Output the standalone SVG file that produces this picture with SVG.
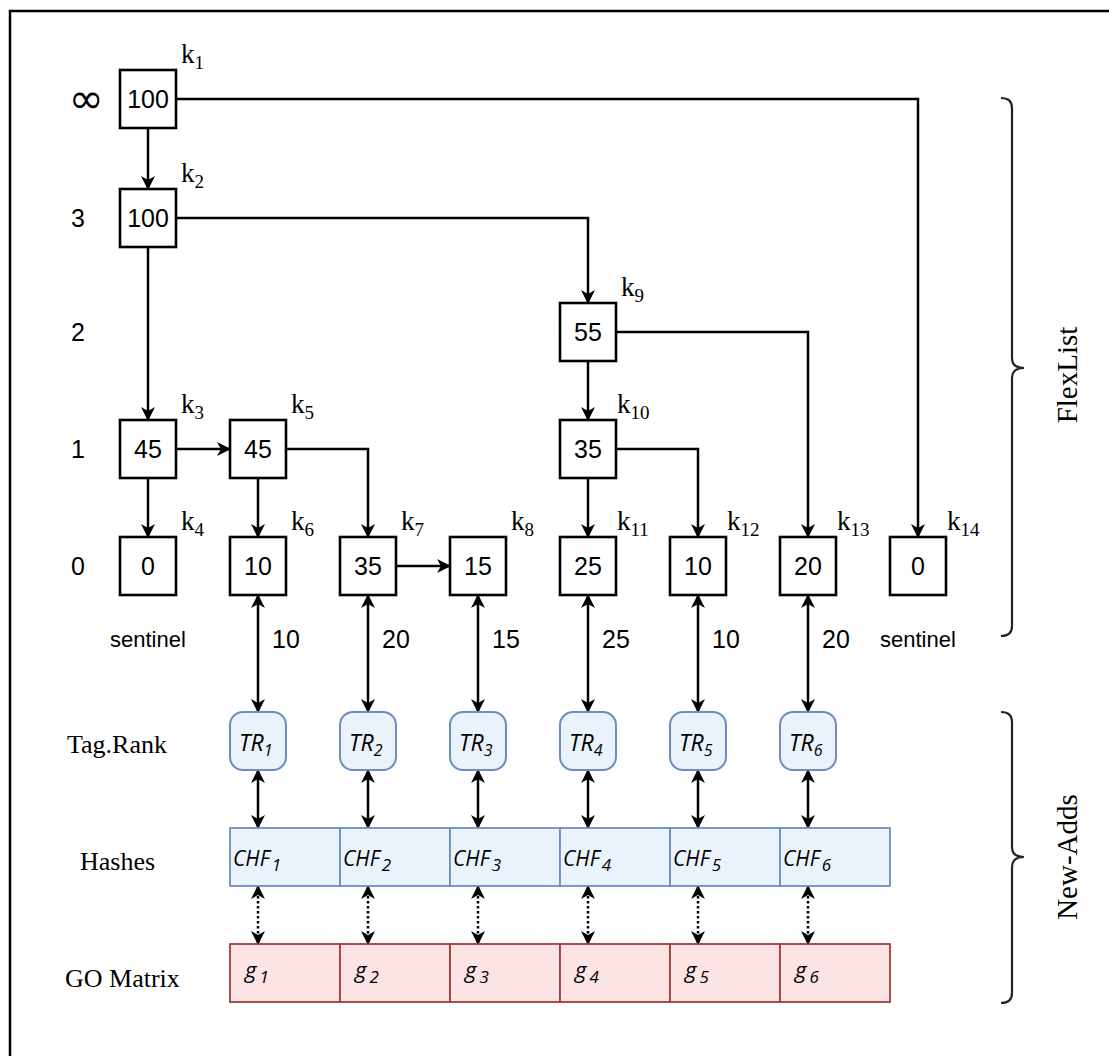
<svg xmlns="http://www.w3.org/2000/svg" width="1109" height="1056" viewBox="0 0 1109 1056">
<style>
.box{fill:#fff;stroke:#000;stroke-width:2.6}
.num{font-family:"Liberation Sans",Arial,sans-serif;font-size:25px;text-anchor:middle;fill:#000}
.lvl{font-family:"Liberation Sans",Arial,sans-serif;font-size:25px;text-anchor:middle;fill:#000}
.inf{font-family:"DejaVu Sans",sans-serif;font-size:42px;text-anchor:middle;fill:#000}
.k{font-family:"Liberation Serif","Times New Roman",serif;font-size:27px;fill:#000}
.sub{font-size:19px}
.conn{fill:none;stroke:#000;stroke-width:2.5}
.dot{fill:none;stroke:#000;stroke-width:2.5;stroke-dasharray:2.5 2.5}
.lab{font-family:"Liberation Serif","Times New Roman",serif;font-size:26px;fill:#000}
.side{font-family:"Liberation Serif","Times New Roman",serif;font-size:29px;fill:#000}
.sent{font-family:"Liberation Sans",Arial,sans-serif;font-size:22px;fill:#000}
.tr{fill:#eaf2fc;stroke:#6c8ebf;stroke-width:2}
.chf{fill:#eaf2fc;stroke:#6c8ebf;stroke-width:1.8}
.g{fill:#fbe4e3;stroke:#a33b3b;stroke-width:1.8}
.trt{font-family:"Open Sans","DejaVu Sans",sans-serif;font-style:italic;font-size:23px;fill:#000}
.chft{font-family:"Open Sans","DejaVu Sans",sans-serif;font-style:italic;font-size:21px;fill:#000}
.gt{font-family:"Open Sans","DejaVu Sans",sans-serif;font-style:italic;font-size:22px;fill:#000}
.brace{fill:none;stroke:#222;stroke-width:2.2}
</style>
<defs>
<marker id="ah" viewBox="0 0 14 14" refX="13" refY="7" markerWidth="14" markerHeight="14" markerUnits="userSpaceOnUse" orient="auto-start-reverse">
<path d="M0,0 L14,7 L0,14 L4,7 z" fill="#000"/>
</marker>
</defs>
<rect x="10" y="11" width="1120" height="1070" fill="none" stroke="#000" stroke-width="2.5"/>

<g id="levels">
<text class="inf" x="86" y="113">∞</text>
<text class="lvl" x="78" y="227">3</text>
<text class="lvl" x="78" y="341">2</text>
<text class="lvl" x="78" y="458">1</text>
<text class="lvl" x="78" y="575">0</text>
</g>

<g id="connectors">
<path class="conn" d="M176,99 H918 V537" marker-end="url(#ah)"/>
<path class="conn" d="M148,128 V189" marker-end="url(#ah)"/>
<path class="conn" d="M176,218 H588 V303" marker-end="url(#ah)"/>
<path class="conn" d="M148,247 V420" marker-end="url(#ah)"/>
<path class="conn" d="M616,332 H808 V537" marker-end="url(#ah)"/>
<path class="conn" d="M588,361 V420" marker-end="url(#ah)"/>
<path class="conn" d="M176,449 H230" marker-end="url(#ah)"/>
<path class="conn" d="M148,478 V537" marker-end="url(#ah)"/>
<path class="conn" d="M286,449 H368 V537" marker-end="url(#ah)"/>
<path class="conn" d="M258,478 V537" marker-end="url(#ah)"/>
<path class="conn" d="M396,566 H450" marker-end="url(#ah)"/>
<path class="conn" d="M588,478 V537" marker-end="url(#ah)"/>
<path class="conn" d="M616,449 H698 V537" marker-end="url(#ah)"/>
<path class="conn" d="M258,595 V712" marker-start="url(#ah)" marker-end="url(#ah)"/>
<path class="conn" d="M368,595 V712" marker-start="url(#ah)" marker-end="url(#ah)"/>
<path class="conn" d="M478,595 V712" marker-start="url(#ah)" marker-end="url(#ah)"/>
<path class="conn" d="M588,595 V712" marker-start="url(#ah)" marker-end="url(#ah)"/>
<path class="conn" d="M698,595 V712" marker-start="url(#ah)" marker-end="url(#ah)"/>
<path class="conn" d="M808,595 V712" marker-start="url(#ah)" marker-end="url(#ah)"/>
<path class="conn" d="M258,770 V828" marker-start="url(#ah)" marker-end="url(#ah)"/>
<path class="conn" d="M368,770 V828" marker-start="url(#ah)" marker-end="url(#ah)"/>
<path class="conn" d="M478,770 V828" marker-start="url(#ah)" marker-end="url(#ah)"/>
<path class="conn" d="M588,770 V828" marker-start="url(#ah)" marker-end="url(#ah)"/>
<path class="conn" d="M698,770 V828" marker-start="url(#ah)" marker-end="url(#ah)"/>
<path class="conn" d="M808,770 V828" marker-start="url(#ah)" marker-end="url(#ah)"/>
<path class="dot" d="M258,886 V944" marker-start="url(#ah)" marker-end="url(#ah)"/>
<path class="dot" d="M368,886 V944" marker-start="url(#ah)" marker-end="url(#ah)"/>
<path class="dot" d="M478,886 V944" marker-start="url(#ah)" marker-end="url(#ah)"/>
<path class="dot" d="M588,886 V944" marker-start="url(#ah)" marker-end="url(#ah)"/>
<path class="dot" d="M698,886 V944" marker-start="url(#ah)" marker-end="url(#ah)"/>
<path class="dot" d="M808,886 V944" marker-start="url(#ah)" marker-end="url(#ah)"/>
<text class="num" x="286" y="648">10</text>
<text class="num" x="396" y="648">20</text>
<text class="num" x="506" y="648">15</text>
<text class="num" x="616" y="648">25</text>
<text class="num" x="726" y="648">10</text>
<text class="num" x="836" y="648">20</text>
</g>

<g id="k1"><rect class="box" x="120" y="70" width="56" height="58"/><text class="num" x="148" y="108">100</text><text class="k" x="181" y="63">k<tspan class="sub" dy="6">1</tspan></text></g>
<g id="k2"><rect class="box" x="120" y="189" width="56" height="58"/><text class="num" x="148" y="227">100</text><text class="k" x="181" y="182">k<tspan class="sub" dy="6">2</tspan></text></g>
<g id="k9"><rect class="box" x="560" y="303" width="56" height="58"/><text class="num" x="588" y="341">55</text><text class="k" x="621" y="296">k<tspan class="sub" dy="6">9</tspan></text></g>
<g id="k3"><rect class="box" x="120" y="420" width="56" height="58"/><text class="num" x="148" y="458">45</text><text class="k" x="181" y="413">k<tspan class="sub" dy="6">3</tspan></text></g>
<g id="k5"><rect class="box" x="230" y="420" width="56" height="58"/><text class="num" x="258" y="458">45</text><text class="k" x="291" y="413">k<tspan class="sub" dy="6">5</tspan></text></g>
<g id="k10"><rect class="box" x="560" y="420" width="56" height="58"/><text class="num" x="588" y="458">35</text><text class="k" x="617" y="413">k<tspan class="sub" dy="6">10</tspan></text></g>
<g id="k4"><rect class="box" x="120" y="537" width="56" height="58"/><text class="num" x="148" y="575">0</text><text class="k" x="181" y="530">k<tspan class="sub" dy="6">4</tspan></text></g>
<g id="k6"><rect class="box" x="230" y="537" width="56" height="58"/><text class="num" x="258" y="575">10</text><text class="k" x="291" y="530">k<tspan class="sub" dy="6">6</tspan></text></g>
<g id="k7"><rect class="box" x="340" y="537" width="56" height="58"/><text class="num" x="368" y="575">35</text><text class="k" x="401" y="530">k<tspan class="sub" dy="6">7</tspan></text></g>
<g id="k8"><rect class="box" x="450" y="537" width="56" height="58"/><text class="num" x="478" y="575">15</text><text class="k" x="511" y="530">k<tspan class="sub" dy="6">8</tspan></text></g>
<g id="k11"><rect class="box" x="560" y="537" width="56" height="58"/><text class="num" x="588" y="575">25</text><text class="k" x="617" y="530">k<tspan class="sub" dy="6">11</tspan></text></g>
<g id="k12"><rect class="box" x="670" y="537" width="56" height="58"/><text class="num" x="698" y="575">10</text><text class="k" x="727" y="530">k<tspan class="sub" dy="6">12</tspan></text></g>
<g id="k13"><rect class="box" x="780" y="537" width="56" height="58"/><text class="num" x="808" y="575">20</text><text class="k" x="837" y="530">k<tspan class="sub" dy="6">13</tspan></text></g>
<g id="k14"><rect class="box" x="890" y="537" width="56" height="58"/><text class="num" x="918" y="575">0</text><text class="k" x="947" y="530">k<tspan class="sub" dy="6">14</tspan></text></g>

<g id="sentinels">
<text class="sent" x="110" y="647">sentinel</text>
<text class="sent" x="880" y="647">sentinel</text>
</g>

<g id="row-labels">
<text class="lab" x="67" y="753">Tag.Rank</text>
<text class="lab" x="80" y="870">Hashes</text>
<text class="lab" x="65" y="987">GO Matrix</text>
</g>

<g id="tr1"><rect class="tr" x="230" y="712" width="56" height="58" rx="13"/><text class="trt" x="239" y="751">TR<tspan font-size="16" dy="5">1</tspan></text></g>
<g id="tr2"><rect class="tr" x="340" y="712" width="56" height="58" rx="13"/><text class="trt" x="349" y="751">TR<tspan font-size="16" dy="5">2</tspan></text></g>
<g id="tr3"><rect class="tr" x="450" y="712" width="56" height="58" rx="13"/><text class="trt" x="459" y="751">TR<tspan font-size="16" dy="5">3</tspan></text></g>
<g id="tr4"><rect class="tr" x="560" y="712" width="56" height="58" rx="13"/><text class="trt" x="569" y="751">TR<tspan font-size="16" dy="5">4</tspan></text></g>
<g id="tr5"><rect class="tr" x="670" y="712" width="56" height="58" rx="13"/><text class="trt" x="679" y="751">TR<tspan font-size="16" dy="5">5</tspan></text></g>
<g id="tr6"><rect class="tr" x="780" y="712" width="56" height="58" rx="13"/><text class="trt" x="789" y="751">TR<tspan font-size="16" dy="5">6</tspan></text></g>

<g id="chf1"><rect class="chf" x="230" y="828" width="110" height="58"/><text class="chft" x="233" y="866">CHF<tspan font-size="17" dx="2" dy="5">1</tspan></text></g>
<g id="chf2"><rect class="chf" x="340" y="828" width="110" height="58"/><text class="chft" x="343" y="866">CHF<tspan font-size="17" dx="2" dy="5">2</tspan></text></g>
<g id="chf3"><rect class="chf" x="450" y="828" width="110" height="58"/><text class="chft" x="453" y="866">CHF<tspan font-size="17" dx="2" dy="5">3</tspan></text></g>
<g id="chf4"><rect class="chf" x="560" y="828" width="110" height="58"/><text class="chft" x="563" y="866">CHF<tspan font-size="17" dx="2" dy="5">4</tspan></text></g>
<g id="chf5"><rect class="chf" x="670" y="828" width="110" height="58"/><text class="chft" x="673" y="866">CHF<tspan font-size="17" dx="2" dy="5">5</tspan></text></g>
<g id="chf6"><rect class="chf" x="780" y="828" width="110" height="58"/><text class="chft" x="783" y="866">CHF<tspan font-size="17" dx="2" dy="5">6</tspan></text></g>

<g id="g1"><rect class="g" x="230" y="944" width="110" height="58"/><text class="gt" x="245" y="978">g<tspan font-size="17" dx="3" dy="5">1</tspan></text></g>
<g id="g2"><rect class="g" x="340" y="944" width="110" height="58"/><text class="gt" x="355" y="978">g<tspan font-size="17" dx="3" dy="5">2</tspan></text></g>
<g id="g3"><rect class="g" x="450" y="944" width="110" height="58"/><text class="gt" x="465" y="978">g<tspan font-size="17" dx="3" dy="5">3</tspan></text></g>
<g id="g4"><rect class="g" x="560" y="944" width="110" height="58"/><text class="gt" x="575" y="978">g<tspan font-size="17" dx="3" dy="5">4</tspan></text></g>
<g id="g5"><rect class="g" x="670" y="944" width="110" height="58"/><text class="gt" x="685" y="978">g<tspan font-size="17" dx="3" dy="5">5</tspan></text></g>
<g id="g6"><rect class="g" x="780" y="944" width="110" height="58"/><text class="gt" x="795" y="978">g<tspan font-size="17" dx="3" dy="5">6</tspan></text></g>

<g id="flexlist-brace">
<path class="brace" d="M1001,98 Q1012,98 1012,108 V358 Q1012,368 1024,368 Q1012,368 1012,378 V626 Q1012,636 1001,636"/>
<text class="side" transform="translate(1068,375) rotate(-90)" text-anchor="middle" dy="9">FlexList</text>
</g>
<g id="newadds-brace">
<path class="brace" d="M1001,712 Q1012,712 1012,722 V847 Q1012,857 1024,857 Q1012,857 1012,867 V993 Q1012,1003 1001,1003"/>
<text class="side" transform="translate(1068,857) rotate(-90)" text-anchor="middle" dy="9">New-Adds</text>
</g>
</svg>
